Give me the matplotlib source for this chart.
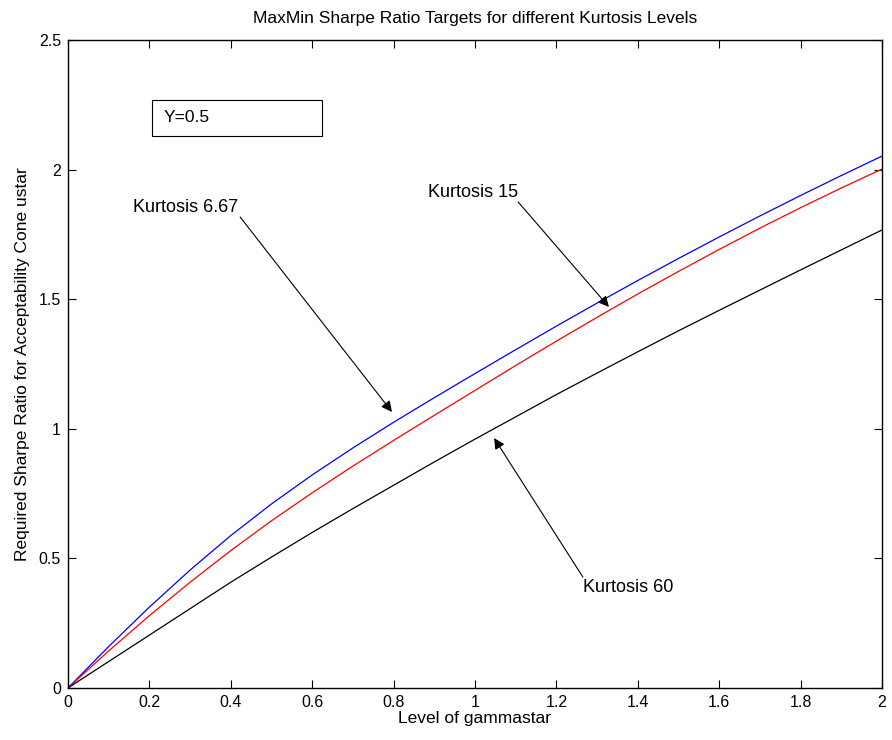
import numpy as np
import matplotlib
matplotlib.use("Agg")
import matplotlib.pyplot as plt
from matplotlib.patches import Rectangle

plt.rcParams["font.family"] = ["Liberation Sans", "DejaVu Sans"]

# level of gammastar
gamma = [0, 0.1, 0.2, 0.3, 0.4, 0.5, 0.6, 0.7, 0.8, 0.9, 1.0,
         1.1, 1.2, 1.3, 1.4, 1.5, 1.6, 1.7, 1.8, 1.9, 2.0]

# required sharpe ratio, one list per kurtosis level
sr_k667 = [0, 0.16, 0.312, 0.455, 0.588, 0.71, 0.822, 0.926, 1.025, 1.12, 1.213,
           1.305, 1.396, 1.485, 1.572, 1.657, 1.74, 1.821, 1.90, 1.977, 2.052]
sr_k15 = [0, 0.143, 0.279, 0.408, 0.53, 0.645, 0.753, 0.856, 0.955, 1.052, 1.148,
          1.244, 1.338, 1.43, 1.52, 1.607, 1.692, 1.774, 1.853, 1.929, 2.002]
sr_k60 = [0, 0.102, 0.204, 0.306, 0.408, 0.505, 0.60, 0.692, 0.782, 0.872, 0.96,
          1.046, 1.132, 1.215, 1.297, 1.378, 1.457, 1.535, 1.613, 1.69, 1.767]

xticks = [0, 0.2, 0.4, 0.6, 0.8, 1, 1.2, 1.4, 1.6, 1.8, 2]
xticklabels = ["0", "0.2", "0.4", "0.6", "0.8", "1", "1.2", "1.4", "1.6", "1.8", "2"]
yticks = [0, 0.5, 1, 1.5, 2, 2.5]
yticklabels = ["0", "0.5", "1", "1.5", "2", "2.5"]

fig = plt.figure(figsize=(8.92, 7.4), dpi=100)
ax = fig.add_axes([0.0762, 0.0703, 0.9126, 0.8757])

ax.plot(gamma, sr_k667, color="#0000ff", lw=0.9)
ax.plot(gamma, sr_k15, color="#ff0000", lw=0.9)
ax.plot(gamma, sr_k60, color="black", lw=0.9)

ax.set_xlim(0, 2)
ax.set_ylim(0, 2.5)
ax.set_xticks(xticks)
ax.set_xticklabels(xticklabels)
ax.set_yticks(yticks)
ax.set_yticklabels(yticklabels)
ax.tick_params(direction="in", length=5.5, width=0.8, top=True, right=True,
               labelsize=11.5, pad=5)
for s in ax.spines.values():
    s.set_linewidth(1.0)

ax.set_title("MaxMin Sharpe Ratio Targets for different Kurtosis Levels",
             fontsize=12.5, pad=12)
ax.set_xlabel("Level of gammastar", fontsize=12.5, labelpad=1)
ax.set_ylabel("Required Sharpe Ratio for Acceptability Cone ustar",
              fontsize=12.5, labelpad=6)

# arrows with labels
arr = dict(arrowstyle="-|>", color="black", lw=0.8, mutation_scale=16,
           shrinkA=0, shrinkB=0)
ax.text(0.16, 1.852, "Kurtosis 6.67", fontsize=13, va="center", ha="left")
ax.annotate("", xy=(0.796, 1.065), xytext=(0.423, 1.817), arrowprops=arr)
ax.text(0.885, 1.91, "Kurtosis 15", fontsize=13, va="center", ha="left")
ax.annotate("", xy=(1.329, 1.470), xytext=(1.106, 1.875), arrowprops=arr)
ax.text(1.265, 0.386, "Kurtosis 60", fontsize=13, va="center", ha="left")
ax.annotate("", xy=(1.047, 0.964), xytext=(1.265, 0.428), arrowprops=arr)

# text box
ax.add_patch(Rectangle((0.206, 2.13), 0.418, 0.139, fill=False,
                       edgecolor="black", lw=0.8))
ax.text(0.235, 2.2, "Y=0.5", fontsize=12.5, va="center", ha="left")

fig.savefig("out.png", dpi=100)
